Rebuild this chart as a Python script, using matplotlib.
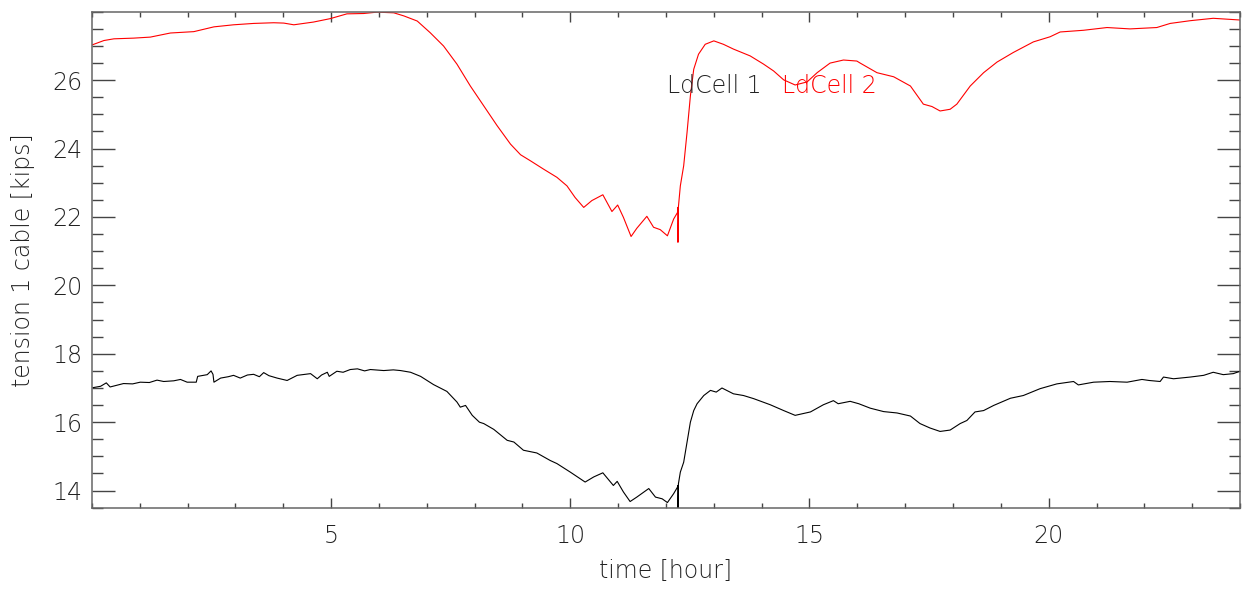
import matplotlib

matplotlib.use("Agg")
import matplotlib.pyplot as plt
from matplotlib.ticker import FixedLocator, MultipleLocator

# LdCell 2 (red), hours vs kips
red_hours = [
    0.00, 0.25, 0.46, 0.87, 1.22, 1.64, 2.13, 2.55, 2.96, 3.38, 3.80, 4.01,
    4.22, 4.63, 4.98, 5.33, 5.68, 5.96, 6.31, 6.52, 6.80, 7.07, 7.35, 7.63,
    7.91, 8.19, 8.47, 8.75, 8.96, 9.17, 9.44, 9.72, 9.93, 10.10, 10.28, 10.45,
    10.68, 10.87, 10.99, 11.11, 11.27, 11.39, 11.60, 11.74, 11.88, 12.03,
    12.16, 12.24, 12.25, 12.25, 12.26, 12.30, 12.37, 12.44, 12.51, 12.58,
    12.68, 12.82, 13.00, 13.20, 13.41, 13.76, 14.04, 14.25, 14.46, 14.70,
    14.95, 15.16, 15.43, 15.71, 15.99, 16.06, 16.41, 16.76, 17.11, 17.38,
    17.56, 17.73, 17.94, 18.08, 18.36, 18.64, 18.92, 19.26, 19.68, 20.03,
    20.24, 20.73, 21.22, 21.70, 22.26, 22.54, 22.96, 23.44, 24.00,
]
red_kips = [
    27.03, 27.16, 27.21, 27.23, 27.26, 27.38, 27.42, 27.56, 27.62, 27.66,
    27.68, 27.67, 27.62, 27.70, 27.80, 27.94, 27.95, 27.99, 27.97, 27.88,
    27.73, 27.39, 27.00, 26.47, 25.83, 25.25, 24.67, 24.13, 23.82, 23.64,
    23.40, 23.16, 22.91, 22.57, 22.28, 22.48, 22.65, 22.16, 22.35, 21.99,
    21.43, 21.67, 22.02, 21.70, 21.63, 21.45, 21.94, 22.13, 22.28, 21.26,
    22.30, 22.91, 23.50, 24.47, 25.54, 26.32, 26.76, 27.05, 27.15, 27.05,
    26.91, 26.71, 26.47, 26.27, 26.01, 25.86, 25.95, 26.22, 26.50, 26.59,
    26.56, 26.50, 26.22, 26.10, 25.83, 25.30, 25.23, 25.10, 25.15, 25.30,
    25.83, 26.22, 26.53, 26.81, 27.12, 27.27, 27.41, 27.46, 27.54, 27.50,
    27.54, 27.66, 27.74, 27.81, 27.76,
]

# LdCell 1 (black)
black_hours = [
    0.02, 0.18, 0.30, 0.38, 0.66, 0.85, 1.01, 1.20, 1.36, 1.50, 1.71, 1.85,
    1.99, 2.18, 2.21, 2.41, 2.49, 2.53, 2.55, 2.69, 2.85, 2.96, 3.10, 3.25,
    3.38, 3.50, 3.59, 3.70, 3.87, 4.08, 4.29, 4.45, 4.57, 4.71, 4.80, 4.92,
    4.96, 5.12, 5.25, 5.40, 5.55, 5.70, 5.82, 6.10, 6.30, 6.45, 6.66, 6.87,
    7.14, 7.42, 7.63, 7.70, 7.81, 7.95, 8.10, 8.19, 8.40, 8.68, 8.82, 9.02,
    9.30, 9.58, 9.72, 10.00, 10.31, 10.49, 10.68, 10.90, 10.98, 11.11, 11.25,
    11.39, 11.64, 11.78, 11.92, 12.03, 12.16, 12.24, 12.25, 12.25, 12.26,
    12.30, 12.37, 12.44, 12.51, 12.58, 12.65, 12.79, 12.93, 13.05, 13.17,
    13.41, 13.62, 13.83, 14.18, 14.46, 14.70, 15.02, 15.29, 15.50, 15.60,
    15.85, 16.03, 16.27, 16.55, 16.83, 17.11, 17.31, 17.52, 17.73, 17.94,
    18.15, 18.29, 18.46, 18.64, 18.85, 19.20, 19.47, 19.82, 20.17, 20.52,
    20.62, 20.94, 21.28, 21.64, 21.95, 22.10, 22.33, 22.40, 22.61, 22.96,
    23.24, 23.44, 23.65, 23.86, 24.00,
]
black_kips = [
    17.01, 17.05, 17.15, 17.03, 17.13, 17.12, 17.17, 17.16, 17.23, 17.19,
    17.21, 17.25, 17.17, 17.17, 17.34, 17.39, 17.50, 17.40, 17.17, 17.29,
    17.33, 17.37, 17.29, 17.38, 17.40, 17.33, 17.45, 17.36, 17.29, 17.22,
    17.37, 17.40, 17.42, 17.27, 17.38, 17.46, 17.34, 17.49, 17.46, 17.54,
    17.56, 17.50, 17.54, 17.51, 17.53, 17.51, 17.46, 17.34, 17.10, 16.90,
    16.59, 16.44, 16.49, 16.20, 16.00, 15.96, 15.79, 15.47, 15.42, 15.18,
    15.10, 14.88, 14.79, 14.54, 14.25, 14.40, 14.52, 14.15, 14.27, 13.96,
    13.68, 13.81, 14.06, 13.81, 13.76, 13.65, 13.91, 14.10, 14.15, 13.40,
    14.20, 14.54, 14.83, 15.42, 16.00, 16.34, 16.54, 16.78, 16.93, 16.88,
    17.00, 16.83, 16.78, 16.69, 16.51, 16.34, 16.20, 16.30, 16.51, 16.63,
    16.54, 16.61, 16.54, 16.41, 16.31, 16.27, 16.18, 15.96, 15.83, 15.73,
    15.77, 15.96, 16.05, 16.30, 16.34, 16.49, 16.70, 16.78, 16.98, 17.12,
    17.19, 17.09, 17.17, 17.19, 17.17, 17.25, 17.22, 17.19, 17.32, 17.27,
    17.32, 17.37, 17.46, 17.39, 17.42, 17.49,
]

x_range = (0, 24)
y_range = (13.5, 28)
x_ticks = [5, 10, 15, 20]
y_ticks = [14, 16, 18, 20, 22, 24, 26]
legend_labels = ["LdCell 1", "LdCell 2"]


def main() -> int:
    plt.rcParams["font.family"] = ["DejaVu Sans"]
    fs = 17
    text_kw = dict(fontsize=fs, fontweight="light", color="#222222")

    fig = plt.figure(figsize=(12.46, 5.90), dpi=100)
    ax = fig.add_axes([0.0738, 0.1395, 0.9214, 0.8405])

    ax.plot(black_hours, black_kips, color="black", linewidth=0.8)
    ax.plot(red_hours, red_kips, color="red", linewidth=0.8)

    ax.set_xlim(*x_range)
    ax.set_ylim(*y_range)

    ax.xaxis.set_major_locator(FixedLocator(x_ticks))
    ax.xaxis.set_minor_locator(MultipleLocator(1))
    ax.yaxis.set_major_locator(FixedLocator(y_ticks))
    ax.yaxis.set_minor_locator(MultipleLocator(0.5))

    for s in ax.spines.values():
        s.set_color("#666666")
        s.set_linewidth(1.1)

    ax.tick_params(axis="both", which="both", direction="in", top=True,
                   right=True, colors="#444444", width=1.0,
                   labelcolor="#222222", labelsize=fs)
    ax.tick_params(axis="x", which="major", length=7, pad=12)
    ax.tick_params(axis="x", which="minor", length=3.4)
    ax.tick_params(axis="y", which="major", length=16.5, pad=7)
    ax.tick_params(axis="y", which="minor", length=8.2)
    for lab in ax.get_xticklabels() + ax.get_yticklabels():
        lab.set_fontweight("light")

    ax.set_xlabel("time [hour]", labelpad=8, **text_kw)
    ax.set_ylabel("tension 1 cable [kips]", labelpad=12, **text_kw)

    ax.text(12.03, 25.63, legend_labels[0], ha="left", va="baseline",
            **text_kw)
    ax.text(14.42, 25.63, legend_labels[1], ha="left", va="baseline",
            fontsize=fs, fontweight="light", color="red")

    fig.savefig("out.png", dpi=100)
    return 0


if __name__ == "__main__":
    raise SystemExit(main())
